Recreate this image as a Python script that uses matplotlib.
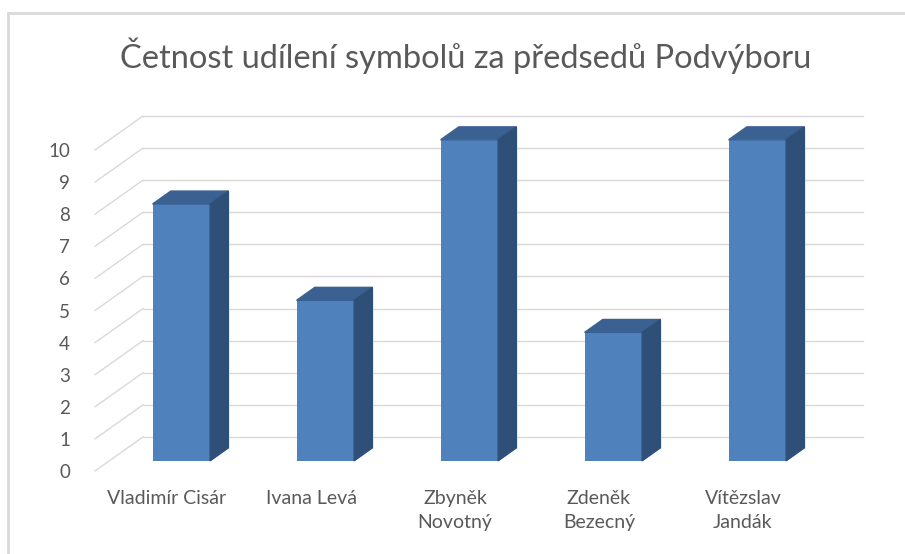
import matplotlib
matplotlib.use("Agg")
import matplotlib.pyplot as plt
from matplotlib.patches import Polygon, Rectangle

plt.rcParams['font.family'] = ['Lato', 'DejaVu Sans']

names = ['Vladimír Cisár', 'Ivana Levá', 'Zbyněk\nNovotný', 'Zdeněk\nBezecný', 'Vítězslav\nJandák']
counts = [8, 5, 10, 4, 10]
yticks = list(range(0, 11))
title = 'Četnost udílení symbolů za předsedů Podvýboru'

front_col = '#4f81bd'
top_col = '#3a6192'
side_col = '#2e4f78'
grid_col = '#d9d9d9'
text_col = '#595959'

# oblique "3D" offsets for depth 0 -> 1 (in data units)
DX, DY = 0.333, 1.06
bar_d0, bar_depth = 0.30, 0.38
bar_w = 0.40

fig = plt.figure(figsize=(9.05, 5.54), dpi=100)
W, H = 905, 554
ax = fig.add_axes([95 / W, (H - 471) / H, 720 / W, 321 / H])
ax.set_xlim(0, 5)
ax.set_ylim(0, 10)
for s in ax.spines.values():
    s.set_visible(False)

# side wall + back wall gridlines
for v in yticks:
    ax.plot([0, DX], [v, v + DY], color=grid_col, lw=1, clip_on=False, zorder=1)
    ax.plot([DX, 5 + DX], [v + DY, v + DY], color=grid_col, lw=1, clip_on=False, zorder=1)

# bars
xs = [i + 0.5 for i in range(len(counts))]
fx = [x + bar_d0 * DX for x in xs]
bars = ax.bar(fx, counts, width=bar_w, bottom=bar_d0 * DY, color=front_col, zorder=3)
for p in bars:
    p.set_clip_on(False)
ox, oy = bar_depth * DX, bar_depth * DY
for x, v in zip(fx, counts):
    x0, x1 = x - bar_w / 2, x + bar_w / 2
    b, t = bar_d0 * DY, bar_d0 * DY + v
    ax.add_patch(Polygon([(x0, t), (x1, t), (x1 + ox, t + oy), (x0 + ox, t + oy)],
                         closed=True, color=top_col, zorder=3, clip_on=False))
    ax.add_patch(Polygon([(x1, b), (x1, t), (x1 + ox, t + oy), (x1 + ox, b + oy)],
                         closed=True, color=side_col, zorder=3, clip_on=False))

ax.set_yticks(yticks)
ax.set_yticklabels([str(v) for v in yticks], fontsize=13.5, color=text_col)
ax.set_xticks(xs)
ax.set_xticklabels(names, fontsize=14, color=text_col, linespacing=1.45)
ax.tick_params(axis='y', length=0, pad=18)
ax.tick_params(axis='x', length=0, pad=14)

fig.text(0.514, 0.90, title, ha='center', va='center', fontsize=23.5, color=text_col)

# chart border
fig.patches.append(Rectangle((8 / W, -0.05), 1.1, (H - 13) / H + 0.05, transform=fig.transFigure,
                             fill=False, edgecolor='#d9d9d9', lw=2))

fig.savefig('out.png', dpi=100)
